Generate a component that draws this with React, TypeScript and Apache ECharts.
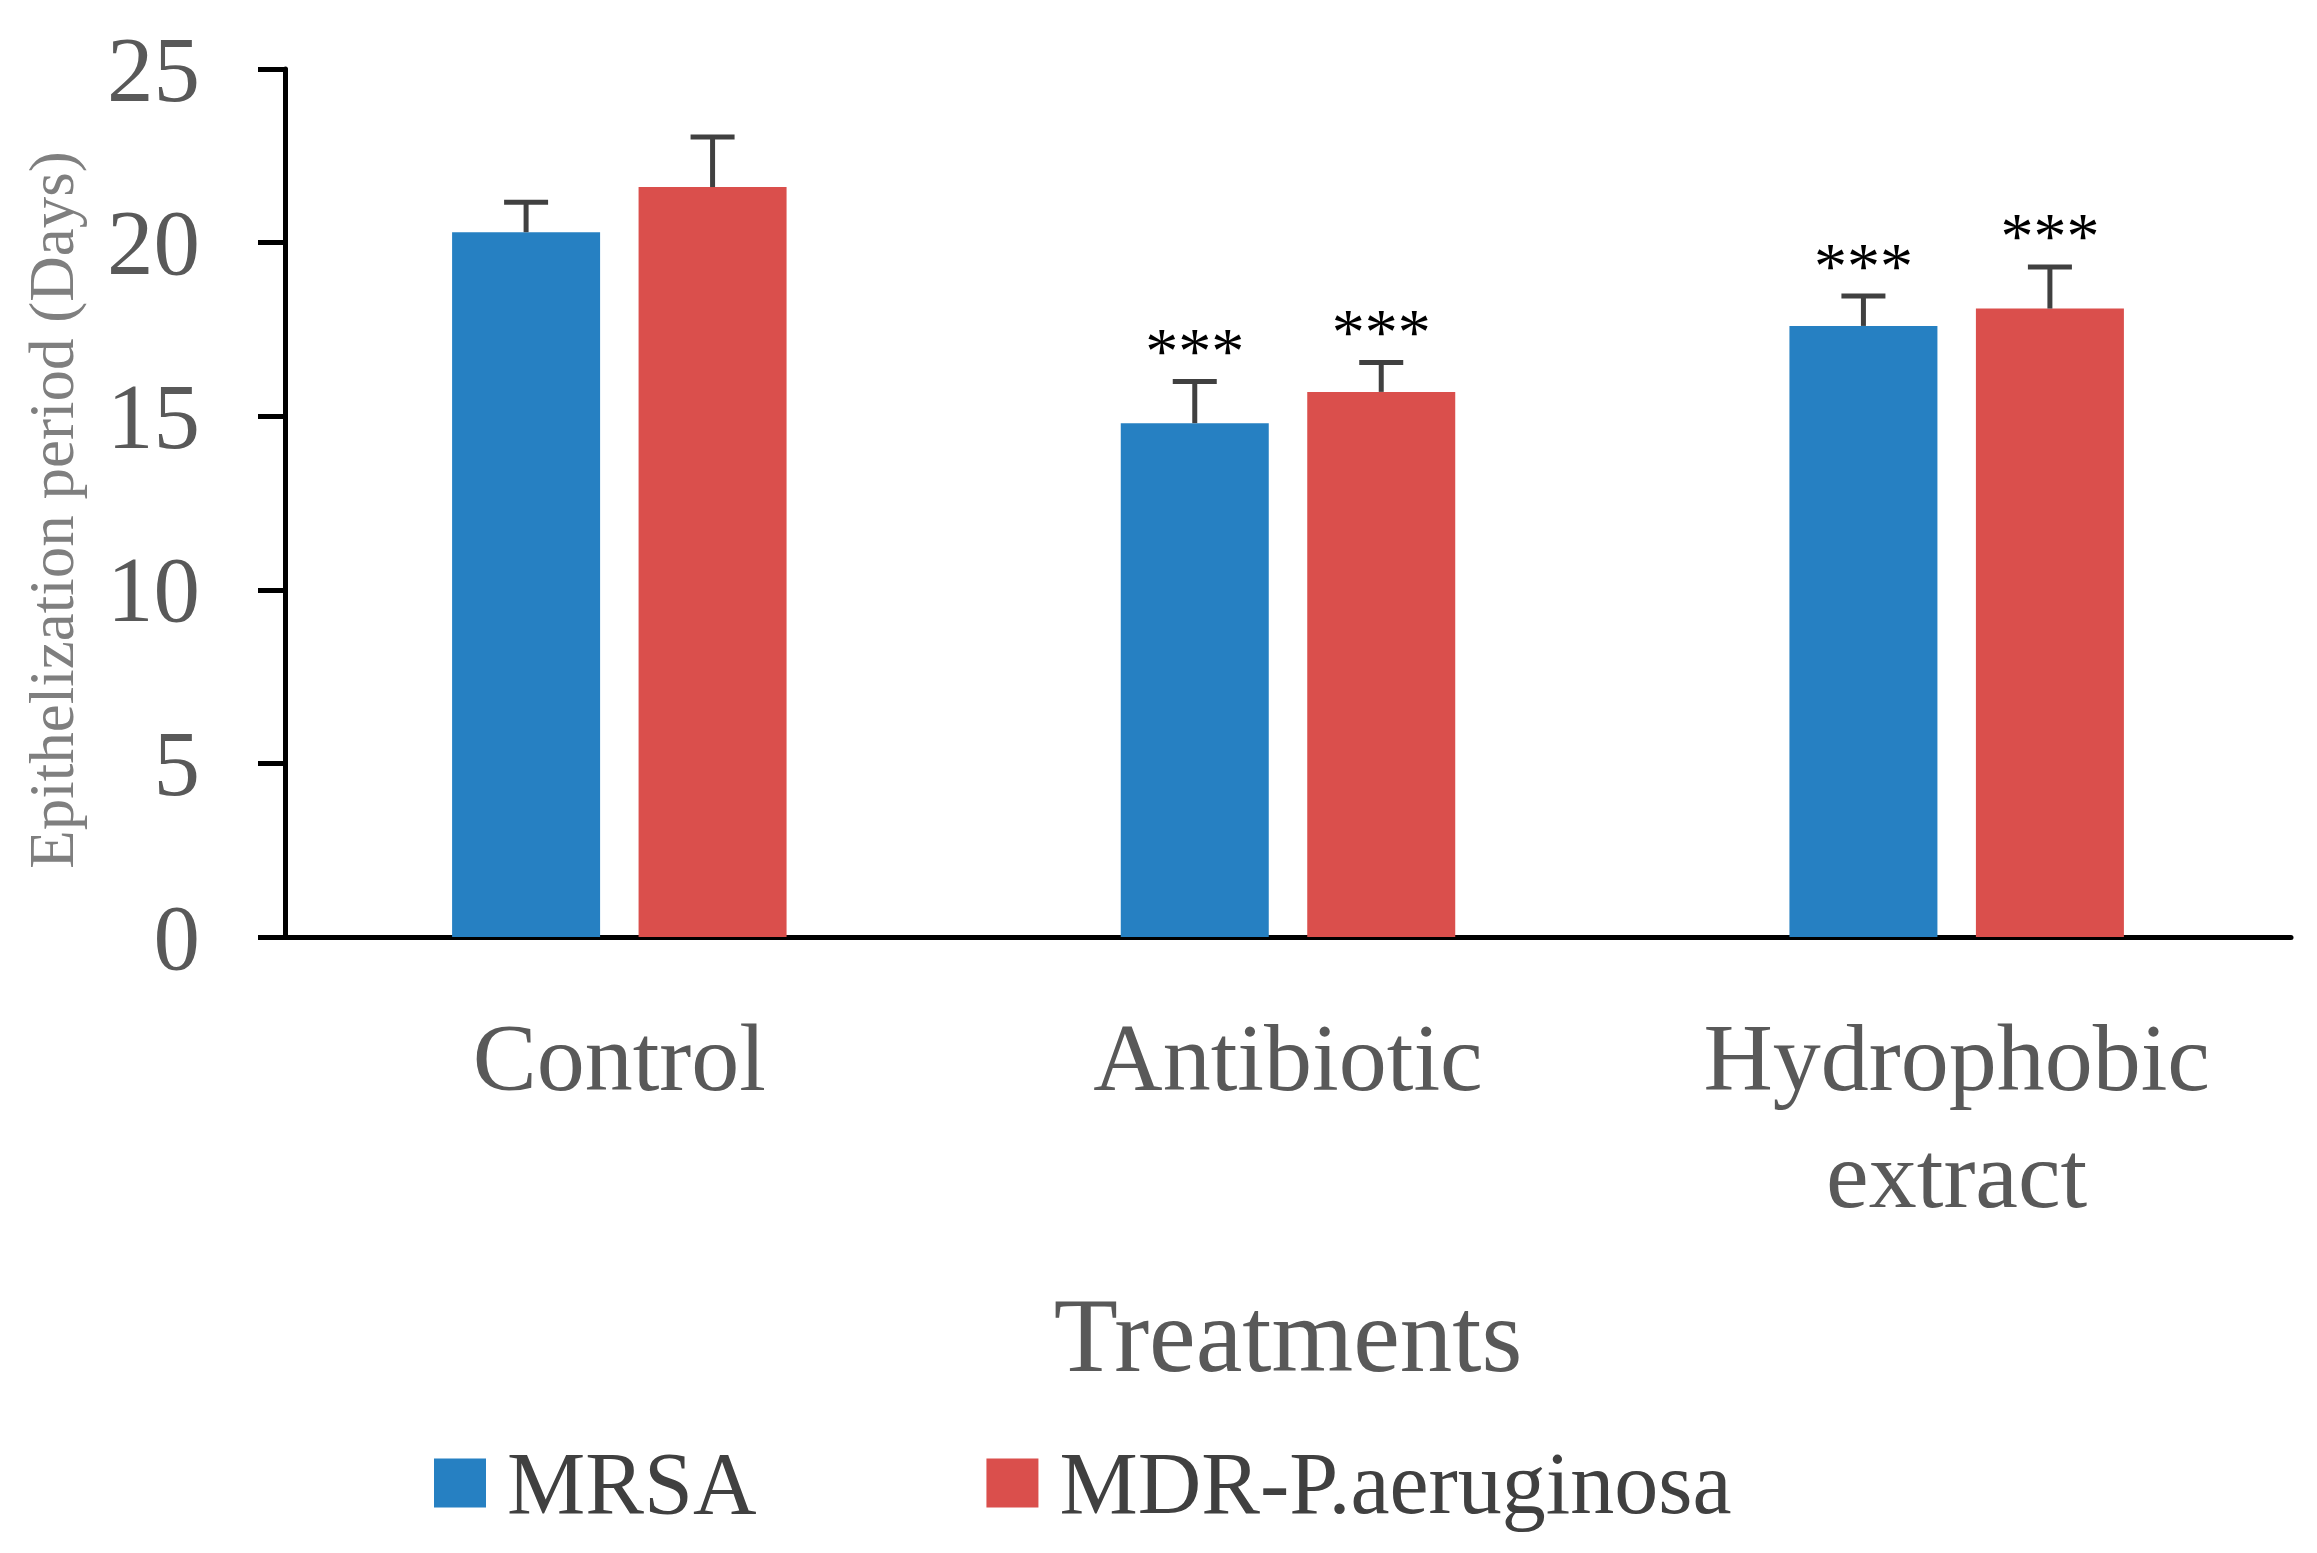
import React, { useEffect, useRef } from "react";
import * as echarts from "echarts";

const categories = ["Control", "Antibiotic", "Hydrophobic\nextract"];
const seriesNames = ["MRSA", "MDR-P.aeruginosa"];
const mrsaValues = [20.3, 14.8, 17.6];
const mrsaErrors = [0.86, 1.2, 0.86];
const mrsaSig = ["", "***", "***"];
const mdrValues = [21.6, 15.7, 18.1];
const mdrErrors = [1.44, 0.85, 1.2];
const mdrSig = ["", "***", "***"];
const yTicks = { min: 0, max: 25, interval: 5 };

const FONT = "'Liberation Serif', 'Times New Roman', serif";
const BLUE = "#2680C2";
const RED = "#DA4F4C";
const BAR_W = 148;
const BAR_GAP = 0.26;
const OFFSET = (BAR_W * (1 + BAR_GAP)) / 2;

function errorSeries(name: string, values: number[], errors: number[], sig: string[], offset: number) {
  return {
    type: "custom",
    name,
    z: 5,
    silent: true,
    data: values.map((v, i) => ({ value: [i, v, errors[i]] })),
    renderItem: (params: any, api: any) => {
      const i = api.value(0);
      const v = api.value(1);
      const e = api.value(2);
      const base = api.coord([i, v]);
      const top = api.coord([i, v + e]);
      const cx = base[0] + offset;
      const s = sig[params.dataIndex];
      const children: any[] = [
        { type: "line", shape: { x1: cx, y1: base[1], x2: cx, y2: top[1] }, style: { stroke: "#404040", lineWidth: 5 } },
        { type: "line", shape: { x1: cx - 22, y1: top[1], x2: cx + 22, y2: top[1] }, style: { stroke: "#404040", lineWidth: 5 } },
      ];
      if (s) {
        children.push({
          type: "text",
          style: {
            text: s,
            x: cx,
            y: top[1] + 2,
            align: "center",
            verticalAlign: "bottom",
            fontSize: 66,
            fontFamily: FONT,
            fill: "#000",
          },
        });
      }
      return { type: "group", children };
    },
  };
}

export default function App() {
  const ref = useRef<HTMLDivElement>(null);
  useEffect(() => {
    document.body.style.margin = "0";
    const chart = echarts.init(ref.current!, null, { renderer: "svg" });
    chart.setOption({
      animation: false,
      backgroundColor: "#fff",
      grid: { left: 285, right: 26, top: 69, bottom: 616, containLabel: false },
      legend: {
        data: seriesNames,
        left: 429,
        top: 1434,
        icon: "rect",
        itemWidth: 52,
        itemHeight: 49,
        itemGap: 230,
        textStyle: { fontFamily: FONT, fontSize: 88, color: "#404040", padding: [0, 0, 0, 16] },
      },
      graphic: [
        {
          type: "text",
          x: 52,
          y: 510,
          rotation: Math.PI / 2,
          style: {
            text: "Epithelization period (Days)",
            x: 0,
            y: 0,
            align: "center",
            verticalAlign: "middle",
            fontSize: 63,
            fontFamily: FONT,
            fill: "#7f7f7f",
          },
        },
        {
          type: "text",
          x: 1288,
          y: 1335,
          style: {
            text: "Treatments",
            x: 0,
            y: 0,
            align: "center",
            verticalAlign: "middle",
            fontSize: 105,
            fontFamily: FONT,
            fill: "#595959",
          },
        },
      ],
      xAxis: {
        type: "category",
        data: categories,
        axisLine: { show: true, lineStyle: { color: "#000", width: 5 } },
        axisTick: { show: false },
        axisLabel: {
          interval: 0,
          margin: 62,
          fontSize: 96,
          lineHeight: 117,
          fontFamily: FONT,
          color: "#595959",
        },
      },
      yAxis: {
        type: "value",
        min: yTicks.min,
        max: yTicks.max,
        interval: yTicks.interval,
        axisLine: { show: true, lineStyle: { color: "#000", width: 5 } },
        axisTick: { show: true, length: 27, lineStyle: { color: "#000", width: 5 } },
        splitLine: { show: false },
        axisLabel: { margin: 85, fontSize: 93, fontFamily: FONT, color: "#595959" },
      },
      series: [
        { type: "bar", name: seriesNames[0], data: mrsaValues, barWidth: BAR_W, barGap: "26%", itemStyle: { color: BLUE } },
        { type: "bar", name: seriesNames[1], data: mdrValues, barWidth: BAR_W, barGap: "26%", itemStyle: { color: RED } },
        errorSeries("MRSA error", mrsaValues, mrsaErrors, mrsaSig, -OFFSET),
        errorSeries("MDR error", mdrValues, mdrErrors, mdrSig, OFFSET),
      ],
    });
    return () => chart.dispose();
  }, []);
  return <div ref={ref} style={{ width: 2317, height: 1553 }} />;
}
